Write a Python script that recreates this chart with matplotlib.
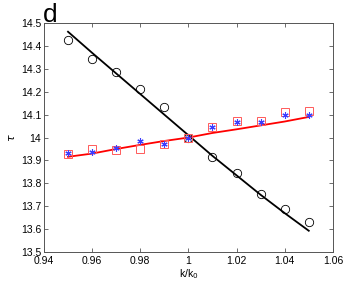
import numpy as np
import matplotlib
matplotlib.use("Agg")
import matplotlib.pyplot as plt
import matplotlib.ticker as mticker

# --- data ---
k_ratio = [0.95, 0.96, 0.97, 0.98, 0.99, 1.00, 1.01, 1.02, 1.03, 1.04, 1.05]
tau_circles = [14.426, 14.345, 14.285, 14.21, 14.135, 14.0, 13.916, 13.844, 13.753, 13.688, 13.632]
tau_black_fit = [14.462, 14.37, 14.28, 14.19, 14.10, 14.01, 13.92, 13.835, 13.75, 13.67, 13.593]
tau_squares = [13.93, 13.948, 13.945, 13.948, 13.974, 14.0, 14.047, 14.071, 14.073, 14.11, 14.117]
tau_stars = [13.931, 13.937, 13.953, 13.985, 13.97, 14.0, 14.047, 14.066, 14.07, 14.1, 14.097]
tau_red_fit = [13.916, 13.93, 13.95, 13.968, 13.985, 14.0, 14.02, 14.036, 14.053, 14.07, 14.09]

xticks = [0.94, 0.96, 0.98, 1.0, 1.02, 1.04, 1.06]
xtick_labels = ["0.94", "0.96", "0.98", "1", "1.02", "1.04", "1.06"]
yticks = [13.5, 13.6, 13.7, 13.8, 13.9, 14.0, 14.1, 14.2, 14.3, 14.4, 14.5]
ytick_labels = ["13.5", "13.6", "13.7", "13.8", "13.9", "14", "14.1", "14.2", "14.3", "14.4", "14.5"]

plt.rcParams["font.family"] = ["Liberation Sans", "DejaVu Sans"]

fig = plt.figure(figsize=(3.46, 2.81), dpi=100, facecolor="white")
ax = fig.add_axes([0.127, 0.103, 0.835, 0.815])

ax.plot(k_ratio, tau_black_fit, color="black", linewidth=1.3, zorder=2)
ax.plot(k_ratio, tau_red_fit, color="red", linewidth=1.3, zorder=2)
ax.plot(k_ratio, tau_circles, linestyle="none", marker="o", markersize=6,
        markerfacecolor="none", markeredgecolor="black", markeredgewidth=0.6, zorder=3)
ax.plot(k_ratio, tau_squares, linestyle="none", marker="s", markersize=5.2,
        markerfacecolor="none", markeredgecolor="#ff5a5a", markeredgewidth=0.7, zorder=3)
ax.plot(k_ratio, tau_stars, linestyle="none", marker=(6, 2, 0), markersize=4.5,
        markeredgecolor="#3c3cff", markeredgewidth=0.8, zorder=4)

ax.set_xlim(0.94, 1.06)
ax.set_ylim(13.5, 14.5)
ax.xaxis.set_major_locator(mticker.FixedLocator(xticks))
ax.set_xticklabels(xtick_labels)
ax.yaxis.set_major_locator(mticker.FixedLocator(yticks))
ax.set_yticklabels(ytick_labels)
ax.tick_params(axis="both", direction="in", length=3, width=0.6, color="#555555",
               labelsize=7.5, top=True, right=True)
ax.tick_params(axis="x", pad=3)
ax.tick_params(axis="y", pad=2)
for s in ax.spines.values():
    s.set_color("#555555")
    s.set_linewidth(0.7)

ax.set_xlabel(r"k/k$_0$", fontsize=7.5, labelpad=1)
ax.set_ylabel(r"$\tau$", fontsize=8, labelpad=3)

fig.text(0.125, 0.905, "d", fontsize=19, ha="left", va="bottom")

fig.savefig("out.png", dpi=100, facecolor="white")
